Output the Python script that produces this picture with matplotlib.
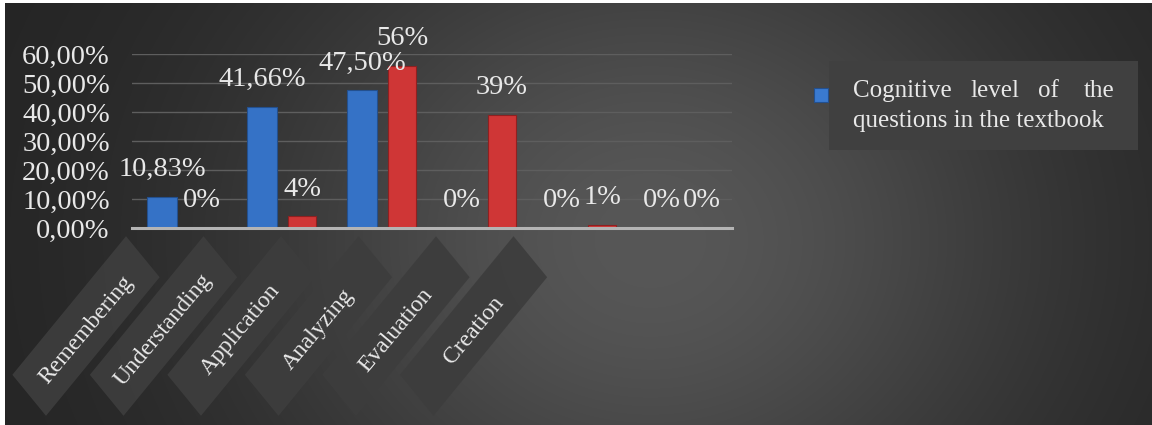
import numpy as np
import matplotlib
matplotlib.use("Agg")
import matplotlib.pyplot as plt
from matplotlib.patches import Rectangle
from matplotlib.transforms import Affine2D, IdentityTransform
from matplotlib.ticker import FuncFormatter, MultipleLocator

# ---------------- data ----------------
categories = ["Remembering", "Understanding", "Application",
              "Analyzing", "Evaluation", "Creation"]
textbook = [0.1083, 0.4166, 0.4750, 0.0, 0.0, 0.0]   # blue series
second = [0.00, 0.04, 0.56, 0.39, 0.01, 0.00]        # red series
legend_label = "Cognitive level of the questions in the textbook"

W, H = 1152, 425
plt.rcParams["font.family"] = ["Liberation Serif", "DejaVu Serif"]
TXT = "#e8e8e8"

fig = plt.figure(figsize=(W / 100, H / 100), dpi=100, facecolor="white")

# ---------------- background gradient ----------------
bg = fig.add_axes([5 / W, 0, 1 - 5 / W, 422 / H])
yy, xx = np.mgrid[0:422, 0:W - 5]
g = np.exp(-(((xx + 5 - 650) / 400.0) ** 2 + ((yy + 3 - 240) / 340.0) ** 2))
v = (35 + 52 * g) / 255.0
img = np.dstack([v, v, v])
bg.imshow(img, aspect="auto", interpolation="bilinear")
bg.set_axis_off()

# ---------------- main axes ----------------
ax = fig.add_axes([132 / W, (H - 228) / H, 600 / W, 174 / H])
ax.patch.set_alpha(0)
x = np.arange(len(categories))
bw = 0.3
ax.bar(x - 0.2, textbook, bw, color="#3572c6", edgecolor="#23508f",
       linewidth=0.8, zorder=3)
ax.bar(x + 0.2, second, bw * 0.95, color="#cf3636", edgecolor="#8f2020",
       linewidth=0.8, zorder=3)

ax.set_xlim(-0.5, len(categories) - 0.5)
ax.set_ylim(0, 0.6)
ax.yaxis.set_major_locator(MultipleLocator(0.1))
ax.yaxis.set_major_formatter(
    FuncFormatter(lambda v, p: f"{v * 100:.2f}%".replace(".", ",")))
ax.grid(axis="y", color="#5e5e5e", linewidth=1, zorder=0)
ax.set_xticks([])
ax.tick_params(axis="y", length=0, pad=16, labelsize=20.5, labelcolor=TXT)
for s in ["top", "right", "left"]:
    ax.spines[s].set_visible(False)
ax.spines["bottom"].set_color("#b4b4b4")
ax.spines["bottom"].set_linewidth(2.2)
ax.spines["bottom"].set_zorder(4)


def fmt_blue(v):
    return f"{v * 100:.2f}%".replace(".", ",") if v else "0%"


def fmt_red(v):
    return f"{v * 100:.0f}%"


for xi, v in zip(x - 0.2, textbook):
    ax.annotate(fmt_blue(v), (xi, v), xytext=(0, 15), textcoords="offset points",
                ha="center", va="baseline", color=TXT, fontsize=20.5,
                annotation_clip=False, zorder=5)
for xi, v in zip(x + 0.2, second):
    ax.annotate(fmt_red(v), (xi, v), xytext=(0, 15), textcoords="offset points",
                ha="center", va="baseline", color=TXT, fontsize=20.5,
                annotation_clip=False, zorder=5)

# ---------------- category label boxes ----------------
BW, BH = 196, 58
for i, cat in enumerate(categories):
    cx = 86 + 77.5 * i
    cy = 326
    tr = Affine2D().rotate_deg(45).scale(0.82, 1).translate(cx, H - cy)
    rect = Rectangle((-BW / 2, -BH / 2), BW, BH, transform=tr,
                     facecolor="#3d3d3d", edgecolor="none", alpha=0.95,
                     zorder=2 + i)
    fig.add_artist(rect)
    fig.text(cx / W, 1 - (cy + 4) / H, cat, rotation=50,
             rotation_mode="anchor", ha="center", va="center",
             color=TXT, fontsize=17, zorder=2.5 + i)

# ---------------- legend ----------------
fig.add_artist(Rectangle((829, H - 150), 309, 89, transform=IdentityTransform(),
                         facecolor="#404040", edgecolor="none", zorder=2))
fig.add_artist(Rectangle((814, H - 102), 14, 14, transform=IdentityTransform(),
                         facecolor="#3a7ad0", edgecolor="#23508f",
                         linewidth=0.8, zorder=3))
words1 = legend_label.split()[:4]
line2 = " ".join(legend_label.split()[4:])
y1 = 1 - 97 / H
y2 = 1 - 127 / H
lkw = dict(color=TXT, fontsize=18, va="baseline", zorder=4)
fig.text(853 / W, y1, words1[0], ha="left", **lkw)
fig.text(970 / W, y1, words1[1], ha="left", **lkw)
fig.text(1038 / W, y1, words1[2], ha="left", **lkw)
fig.text(1114 / W, y1, words1[3], ha="right", **lkw)
fig.text(853 / W, y2, line2, ha="left", **lkw)

fig.savefig("out.png", dpi=100, facecolor=fig.get_facecolor())
